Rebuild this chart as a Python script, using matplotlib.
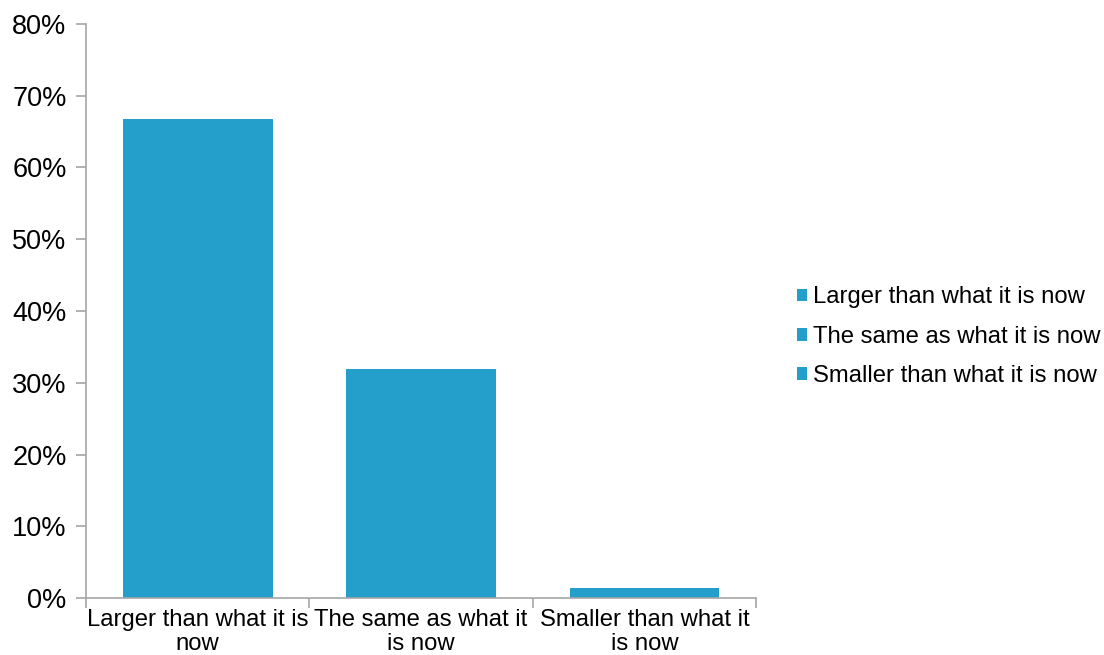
import matplotlib.pyplot as plt
from matplotlib.patches import Patch
from matplotlib.ticker import FixedLocator, PercentFormatter

plt.rcParams['font.family'] = ['Liberation Sans', 'DejaVu Sans']

categories = ['Larger than what it is now',
              'The same as what it is now',
              'Smaller than what it is now']
tick_labels = ['Larger than what it is\nnow',
               'The same as what it\nis now',
               'Smaller than what it\nis now']
values = [66.7, 31.9, 1.4]

bar_color = '#249ECA'
axis_color = '#A6A6A6'

fig = plt.figure(figsize=(11.04, 6.55), dpi=100)
ax = fig.add_axes([0.0779, 0.087, 0.607, 0.8764])

x = list(range(len(categories)))
ax.bar(x, values, width=0.67, color=bar_color, zorder=2)

ax.set_xlim(-0.5, len(categories) - 0.5)
ax.set_ylim(0, 80)
ax.set_yticks(range(0, 81, 10))
ax.yaxis.set_major_formatter(PercentFormatter(decimals=0))

ax.set_xticks(x)
ax.set_xticklabels(tick_labels, linespacing=1.12)
ax.xaxis.set_minor_locator(FixedLocator([i - 0.5 for i in range(len(categories) + 1)]))
ax.tick_params(axis='x', which='major', length=0, pad=8, labelsize=17.2)
ax.tick_params(axis='x', which='minor', length=7, color=axis_color, width=1.2)
ax.tick_params(axis='y', length=7, color=axis_color, width=1.2, labelsize=19.5, pad=7)

for side in ['top', 'right']:
    ax.spines[side].set_visible(False)
for side in ['left', 'bottom']:
    ax.spines[side].set_color(axis_color)
    ax.spines[side].set_linewidth(1.2)

handles = [Patch(facecolor=bar_color, edgecolor='none') for _ in categories]
fig.legend(handles, categories, loc='center left', bbox_to_anchor=(0.702, 0.486),
           frameon=False, fontsize=17.2, handlelength=0.45, handleheight=0.45,
           handletextpad=0.25, labelspacing=0.72)

fig.savefig('out.png', dpi=100)
